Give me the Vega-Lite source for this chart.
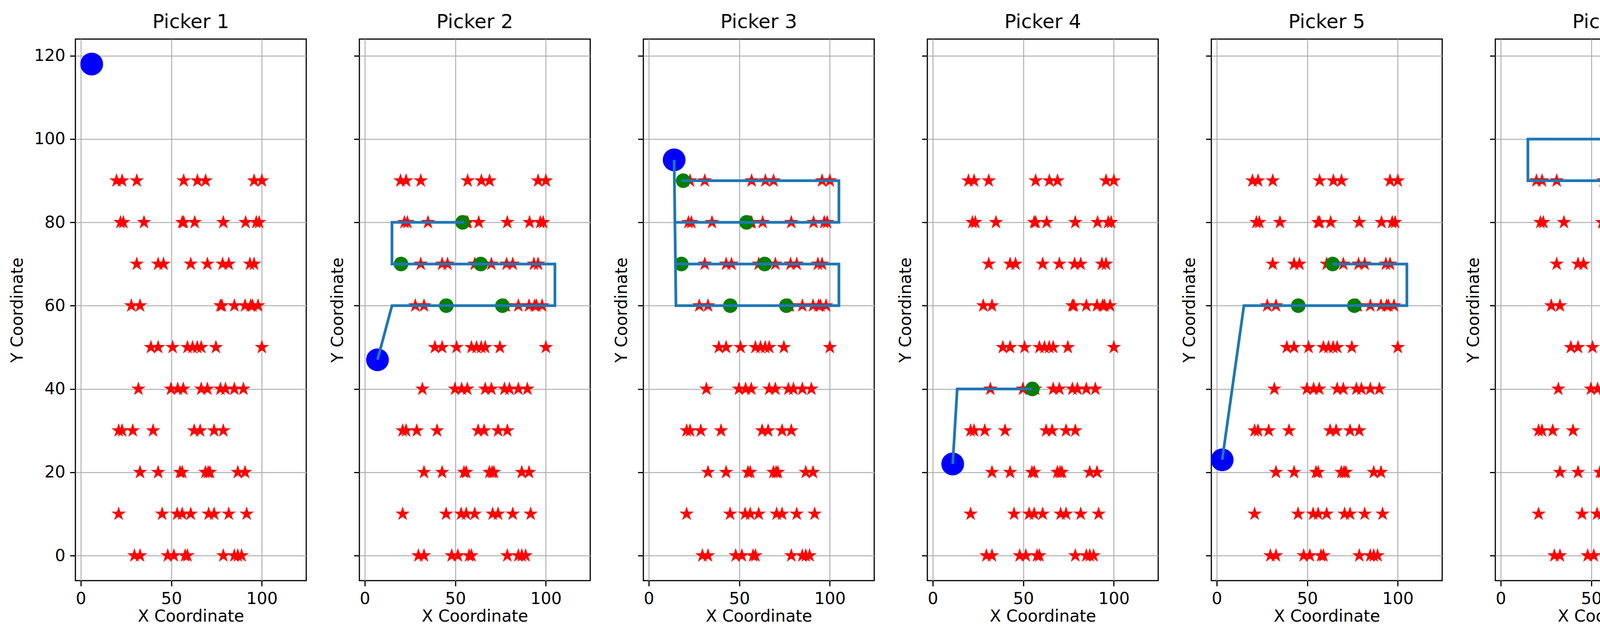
{
  "$schema": "https://vega.github.io/schema/vega-lite/v6.json",
  "padding": {"left": 22, "top": 30, "right": 5, "bottom": 10},
  "spacing": 56,
  "config": {
    "font": "DejaVu Sans",
    "view": {"stroke": "black", "strokeWidth": 3},
    "title": {"fontSize": 50, "fontWeight": "normal", "offset": 18},
    "axis": {
      "labelFontSize": 42, "titleFontSize": 42, "titleFontWeight": "normal",
      "tickSize": 14, "tickWidth": 3, "tickColor": "black", "labelPadding": 12,
      "gridColor": "#b0b0b0", "gridWidth": 2.5, "domain": false, "labelColor": "black"
    }
  },
  "datasets": {
    "stars": [
      {"x": 19.7, "y": 90}, {"x": 22.8, "y": 90}, {"x": 30.9, "y": 90}, {"x": 56.8, "y": 90}, {"x": 64.4, "y": 90}, {"x": 68.9, "y": 90}, {"x": 95.7, "y": 90}, {"x": 100, "y": 90},
      {"x": 21.9, "y": 80}, {"x": 23.5, "y": 80}, {"x": 34.9, "y": 80}, {"x": 56, "y": 80}, {"x": 56.8, "y": 80}, {"x": 62.9, "y": 80}, {"x": 78.7, "y": 80}, {"x": 91, "y": 80}, {"x": 96.9, "y": 80}, {"x": 98.5, "y": 80},
      {"x": 30.9, "y": 70}, {"x": 42.7, "y": 70}, {"x": 45.7, "y": 70}, {"x": 60.7, "y": 70}, {"x": 69.9, "y": 70}, {"x": 78.3, "y": 70}, {"x": 81.7, "y": 70}, {"x": 93.4, "y": 70}, {"x": 95.7, "y": 70},
      {"x": 27.9, "y": 60}, {"x": 32.7, "y": 60}, {"x": 77.1, "y": 60}, {"x": 77.9, "y": 60}, {"x": 84.8, "y": 60}, {"x": 90.7, "y": 60}, {"x": 93.8, "y": 60}, {"x": 94.8, "y": 60}, {"x": 97.9, "y": 60},
      {"x": 38.7, "y": 50}, {"x": 42.7, "y": 50}, {"x": 50.7, "y": 50}, {"x": 58.9, "y": 50}, {"x": 61.7, "y": 50}, {"x": 64.3, "y": 50}, {"x": 66.5, "y": 50}, {"x": 74.6, "y": 50}, {"x": 100, "y": 50},
      {"x": 31.8, "y": 40}, {"x": 49.8, "y": 40}, {"x": 53.5, "y": 40}, {"x": 56.6, "y": 40}, {"x": 66.5, "y": 40}, {"x": 69.9, "y": 40}, {"x": 77.1, "y": 40}, {"x": 79.9, "y": 40}, {"x": 84.8, "y": 40}, {"x": 89.8, "y": 40},
      {"x": 20.9, "y": 30}, {"x": 22.8, "y": 30}, {"x": 28.7, "y": 30}, {"x": 39.9, "y": 30}, {"x": 62.6, "y": 30}, {"x": 65.9, "y": 30}, {"x": 73.6, "y": 30}, {"x": 78.7, "y": 30},
      {"x": 32.7, "y": 20}, {"x": 42.7, "y": 20}, {"x": 54.8, "y": 20}, {"x": 56, "y": 20}, {"x": 68.8, "y": 20}, {"x": 70.3, "y": 20}, {"x": 71.3, "y": 20}, {"x": 86.7, "y": 20}, {"x": 90.7, "y": 20},
      {"x": 20.9, "y": 10}, {"x": 44.9, "y": 10}, {"x": 53.2, "y": 10}, {"x": 56, "y": 10}, {"x": 60.7, "y": 10}, {"x": 70.6, "y": 10}, {"x": 73.6, "y": 10}, {"x": 81.7, "y": 10}, {"x": 91.6, "y": 10},
      {"x": 29.6, "y": 0}, {"x": 32.7, "y": 0}, {"x": 48, "y": 0}, {"x": 51.4, "y": 0}, {"x": 57.6, "y": 0}, {"x": 58.9, "y": 0}, {"x": 78.7, "y": 0}, {"x": 84.8, "y": 0}, {"x": 86.7, "y": 0}, {"x": 88.8, "y": 0}
    ],
    "start": [
      {"p": 1, "x": 6, "y": 118}, {"p": 2, "x": 7, "y": 47}, {"p": 3, "x": 14, "y": 95}, {"p": 4, "x": 11, "y": 22}, {"p": 5, "x": 3, "y": 23},
      {"p": 6, "x": 114, "y": 76}, {"p": 7, "x": 119, "y": 77}, {"p": 8, "x": 106, "y": 31.5}, {"p": 9, "x": 112, "y": 0}, {"p": 10, "x": 101, "y": 43}
    ],
    "picks": [
      {"p": 2, "x": 45, "y": 60}, {"p": 2, "x": 76, "y": 60}, {"p": 2, "x": 20, "y": 70}, {"p": 2, "x": 64, "y": 70}, {"p": 2, "x": 54, "y": 80},
      {"p": 3, "x": 19, "y": 90}, {"p": 3, "x": 54, "y": 80}, {"p": 3, "x": 18, "y": 70}, {"p": 3, "x": 64, "y": 70}, {"p": 3, "x": 45, "y": 60}, {"p": 3, "x": 76, "y": 60},
      {"p": 4, "x": 55, "y": 40},
      {"p": 5, "x": 45, "y": 60}, {"p": 5, "x": 76, "y": 60}, {"p": 5, "x": 64, "y": 70},
      {"p": 6, "x": 89, "y": 100}, {"p": 6, "x": 95, "y": 90},
      {"p": 7, "x": 95, "y": 90}, {"p": 7, "x": 64, "y": 70}, {"p": 7, "x": 45, "y": 60}, {"p": 7, "x": 76, "y": 60},
      {"p": 8, "x": 95, "y": 30},
      {"p": 9, "x": 60, "y": 1},
      {"p": 10, "x": 54.3, "y": 80}, {"p": 10, "x": 64.2, "y": 70}, {"p": 10, "x": 45.2, "y": 60}, {"p": 10, "x": 76.1, "y": 60}, {"p": 10, "x": 30.2, "y": 1.2}
    ],
    "route": [
      {"p": 2, "s": 1, "o": 1, "x": 7, "y": 47}, {"p": 2, "s": 1, "o": 2, "x": 15, "y": 60}, {"p": 2, "s": 1, "o": 3, "x": 105, "y": 60}, {"p": 2, "s": 1, "o": 4, "x": 105, "y": 70}, {"p": 2, "s": 1, "o": 5, "x": 15, "y": 70}, {"p": 2, "s": 1, "o": 6, "x": 15, "y": 80}, {"p": 2, "s": 1, "o": 7, "x": 55, "y": 80},
      {"p": 3, "s": 1, "o": 1, "x": 14, "y": 95}, {"p": 3, "s": 1, "o": 2, "x": 15, "y": 60}, {"p": 3, "s": 1, "o": 3, "x": 105, "y": 60}, {"p": 3, "s": 1, "o": 4, "x": 105, "y": 70}, {"p": 3, "s": 1, "o": 5, "x": 15, "y": 70},
      {"p": 3, "s": 2, "o": 1, "x": 15, "y": 80}, {"p": 3, "s": 2, "o": 2, "x": 105, "y": 80}, {"p": 3, "s": 2, "o": 3, "x": 105, "y": 90}, {"p": 3, "s": 2, "o": 4, "x": 18, "y": 90},
      {"p": 4, "s": 1, "o": 1, "x": 11, "y": 22}, {"p": 4, "s": 1, "o": 2, "x": 13.5, "y": 40}, {"p": 4, "s": 1, "o": 3, "x": 55, "y": 40},
      {"p": 5, "s": 1, "o": 1, "x": 3, "y": 23}, {"p": 5, "s": 1, "o": 2, "x": 15, "y": 60}, {"p": 5, "s": 1, "o": 3, "x": 105, "y": 60}, {"p": 5, "s": 1, "o": 4, "x": 105, "y": 70}, {"p": 5, "s": 1, "o": 5, "x": 64, "y": 70},
      {"p": 6, "s": 1, "o": 1, "x": 114, "y": 76}, {"p": 6, "s": 1, "o": 2, "x": 105, "y": 90}, {"p": 6, "s": 1, "o": 3, "x": 15, "y": 90}, {"p": 6, "s": 1, "o": 4, "x": 15, "y": 100}, {"p": 6, "s": 1, "o": 5, "x": 89, "y": 100},
      {"p": 7, "s": 1, "o": 1, "x": 119, "y": 77}, {"p": 7, "s": 1, "o": 2, "x": 105, "y": 100}, {"p": 7, "s": 1, "o": 3, "x": 105, "y": 90}, {"p": 7, "s": 1, "o": 4, "x": 15, "y": 90}, {"p": 7, "s": 1, "o": 5, "x": 15, "y": 80}, {"p": 7, "s": 1, "o": 6, "x": 105, "y": 80}, {"p": 7, "s": 1, "o": 7, "x": 105, "y": 70}, {"p": 7, "s": 1, "o": 8, "x": 15, "y": 70}, {"p": 7, "s": 1, "o": 9, "x": 15, "y": 60}, {"p": 7, "s": 1, "o": 10, "x": 76, "y": 60},
      {"p": 8, "s": 1, "o": 1, "x": 106, "y": 31.5}, {"p": 8, "s": 1, "o": 2, "x": 105, "y": 30}, {"p": 8, "s": 1, "o": 3, "x": 95, "y": 30},
      {"p": 9, "s": 1, "o": 1, "x": 60, "y": 1}, {"p": 9, "s": 1, "o": 2, "x": 105, "y": 1}, {"p": 9, "s": 1, "o": 3, "x": 112, "y": 0},
      {"p": 10, "s": 1, "o": 1, "x": 101, "y": 43}, {"p": 10, "s": 1, "o": 2, "x": 105, "y": 1.2}, {"p": 10, "s": 1, "o": 3, "x": 15, "y": 1.2}, {"p": 10, "s": 1, "o": 4, "x": 15, "y": 60}, {"p": 10, "s": 1, "o": 5, "x": 105, "y": 60}, {"p": 10, "s": 1, "o": 6, "x": 105, "y": 70}, {"p": 10, "s": 1, "o": 7, "x": 15, "y": 70}, {"p": 10, "s": 1, "o": 8, "x": 15, "y": 80}, {"p": 10, "s": 1, "o": 9, "x": 54.5, "y": 80}
    ]
  },
  "hconcat": [
    {"title": "Picker 1", "width": 591, "height": 1386, "layer": [
      {"data": {"name": "stars"}, "mark": {"type": "point", "filled": true, "color": "red", "opacity": 1, "size": 1500, "shape": "M0,-1L0.2245,-0.309L0.951,-0.309L0.363,0.118L0.588,0.809L0,0.382L-0.588,0.809L-0.363,0.118L-0.951,-0.309L-0.2245,-0.309Z"},
        "encoding": {
          "x": {"field": "x", "type": "quantitative", "scale": {"domain": [-3, 124.5], "nice": false, "zero": false}, "axis": {"values": [0, 50, 100], "title": "X Coordinate"}},
          "y": {"field": "y", "type": "quantitative", "scale": {"domain": [-6, 124], "nice": false, "zero": false}, "axis": {"values": [0, 20, 40, 60, 80, 100, 120], "title": "Y Coordinate", "titlePadding": 20}}}},
      {"data": {"name": "start"}, "transform": [{"filter": "datum.p == 1"}], "mark": {"type": "circle", "color": "blue", "opacity": 1, "size": 3400}, "encoding": {"x": {"field": "x", "type": "quantitative"}, "y": {"field": "y", "type": "quantitative"}}}
    ]},
    {"title": "Picker 2", "width": 591, "height": 1386, "layer": [
      {"data": {"name": "stars"}, "mark": {"type": "point", "filled": true, "color": "red", "opacity": 1, "size": 1500, "shape": "M0,-1L0.2245,-0.309L0.951,-0.309L0.363,0.118L0.588,0.809L0,0.382L-0.588,0.809L-0.363,0.118L-0.951,-0.309L-0.2245,-0.309Z"},
        "encoding": {
          "x": {"field": "x", "type": "quantitative", "scale": {"domain": [-3, 124.5], "nice": false, "zero": false}, "axis": {"values": [0, 50, 100], "title": "X Coordinate"}},
          "y": {"field": "y", "type": "quantitative", "scale": {"domain": [-6, 124], "nice": false, "zero": false}, "axis": {"values": [0, 20, 40, 60, 80, 100, 120], "labels": false, "title": "Y Coordinate", "titlePadding": 18}}}},
      {"data": {"name": "picks"}, "transform": [{"filter": "datum.p == 2"}], "mark": {"type": "circle", "color": "green", "opacity": 1, "size": 1400}, "encoding": {"x": {"field": "x", "type": "quantitative"}, "y": {"field": "y", "type": "quantitative"}}},
      {"data": {"name": "start"}, "transform": [{"filter": "datum.p == 2"}], "mark": {"type": "circle", "color": "blue", "opacity": 1, "size": 3400}, "encoding": {"x": {"field": "x", "type": "quantitative"}, "y": {"field": "y", "type": "quantitative"}}},
      {"data": {"name": "route"}, "transform": [{"filter": "datum.p == 2"}], "mark": {"type": "line", "color": "#1f77b4", "strokeWidth": 7}, "encoding": {"x": {"field": "x", "type": "quantitative"}, "y": {"field": "y", "type": "quantitative"}, "detail": {"field": "s"}, "order": {"field": "o"}}}
    ]},
    {"title": "Picker 3", "width": 591, "height": 1386, "layer": [
      {"data": {"name": "stars"}, "mark": {"type": "point", "filled": true, "color": "red", "opacity": 1, "size": 1500, "shape": "M0,-1L0.2245,-0.309L0.951,-0.309L0.363,0.118L0.588,0.809L0,0.382L-0.588,0.809L-0.363,0.118L-0.951,-0.309L-0.2245,-0.309Z"},
        "encoding": {
          "x": {"field": "x", "type": "quantitative", "scale": {"domain": [-3, 124.5], "nice": false, "zero": false}, "axis": {"values": [0, 50, 100], "title": "X Coordinate"}},
          "y": {"field": "y", "type": "quantitative", "scale": {"domain": [-6, 124], "nice": false, "zero": false}, "axis": {"values": [0, 20, 40, 60, 80, 100, 120], "labels": false, "title": "Y Coordinate", "titlePadding": 18}}}},
      {"data": {"name": "picks"}, "transform": [{"filter": "datum.p == 3"}], "mark": {"type": "circle", "color": "green", "opacity": 1, "size": 1400}, "encoding": {"x": {"field": "x", "type": "quantitative"}, "y": {"field": "y", "type": "quantitative"}}},
      {"data": {"name": "start"}, "transform": [{"filter": "datum.p == 3"}], "mark": {"type": "circle", "color": "blue", "opacity": 1, "size": 3400}, "encoding": {"x": {"field": "x", "type": "quantitative"}, "y": {"field": "y", "type": "quantitative"}}},
      {"data": {"name": "route"}, "transform": [{"filter": "datum.p == 3"}], "mark": {"type": "line", "color": "#1f77b4", "strokeWidth": 7}, "encoding": {"x": {"field": "x", "type": "quantitative"}, "y": {"field": "y", "type": "quantitative"}, "detail": {"field": "s"}, "order": {"field": "o"}}}
    ]},
    {"title": "Picker 4", "width": 591, "height": 1386, "layer": [
      {"data": {"name": "stars"}, "mark": {"type": "point", "filled": true, "color": "red", "opacity": 1, "size": 1500, "shape": "M0,-1L0.2245,-0.309L0.951,-0.309L0.363,0.118L0.588,0.809L0,0.382L-0.588,0.809L-0.363,0.118L-0.951,-0.309L-0.2245,-0.309Z"},
        "encoding": {
          "x": {"field": "x", "type": "quantitative", "scale": {"domain": [-3, 124.5], "nice": false, "zero": false}, "axis": {"values": [0, 50, 100], "title": "X Coordinate"}},
          "y": {"field": "y", "type": "quantitative", "scale": {"domain": [-6, 124], "nice": false, "zero": false}, "axis": {"values": [0, 20, 40, 60, 80, 100, 120], "labels": false, "title": "Y Coordinate", "titlePadding": 18}}}},
      {"data": {"name": "picks"}, "transform": [{"filter": "datum.p == 4"}], "mark": {"type": "circle", "color": "green", "opacity": 1, "size": 1400}, "encoding": {"x": {"field": "x", "type": "quantitative"}, "y": {"field": "y", "type": "quantitative"}}},
      {"data": {"name": "start"}, "transform": [{"filter": "datum.p == 4"}], "mark": {"type": "circle", "color": "blue", "opacity": 1, "size": 3400}, "encoding": {"x": {"field": "x", "type": "quantitative"}, "y": {"field": "y", "type": "quantitative"}}},
      {"data": {"name": "route"}, "transform": [{"filter": "datum.p == 4"}], "mark": {"type": "line", "color": "#1f77b4", "strokeWidth": 7}, "encoding": {"x": {"field": "x", "type": "quantitative"}, "y": {"field": "y", "type": "quantitative"}, "detail": {"field": "s"}, "order": {"field": "o"}}}
    ]},
    {"title": "Picker 5", "width": 591, "height": 1386, "layer": [
      {"data": {"name": "stars"}, "mark": {"type": "point", "filled": true, "color": "red", "opacity": 1, "size": 1500, "shape": "M0,-1L0.2245,-0.309L0.951,-0.309L0.363,0.118L0.588,0.809L0,0.382L-0.588,0.809L-0.363,0.118L-0.951,-0.309L-0.2245,-0.309Z"},
        "encoding": {
          "x": {"field": "x", "type": "quantitative", "scale": {"domain": [-3, 124.5], "nice": false, "zero": false}, "axis": {"values": [0, 50, 100], "title": "X Coordinate"}},
          "y": {"field": "y", "type": "quantitative", "scale": {"domain": [-6, 124], "nice": false, "zero": false}, "axis": {"values": [0, 20, 40, 60, 80, 100, 120], "labels": false, "title": "Y Coordinate", "titlePadding": 18}}}},
      {"data": {"name": "picks"}, "transform": [{"filter": "datum.p == 5"}], "mark": {"type": "circle", "color": "green", "opacity": 1, "size": 1400}, "encoding": {"x": {"field": "x", "type": "quantitative"}, "y": {"field": "y", "type": "quantitative"}}},
      {"data": {"name": "start"}, "transform": [{"filter": "datum.p == 5"}], "mark": {"type": "circle", "color": "blue", "opacity": 1, "size": 3400}, "encoding": {"x": {"field": "x", "type": "quantitative"}, "y": {"field": "y", "type": "quantitative"}}},
      {"data": {"name": "route"}, "transform": [{"filter": "datum.p == 5"}], "mark": {"type": "line", "color": "#1f77b4", "strokeWidth": 7}, "encoding": {"x": {"field": "x", "type": "quantitative"}, "y": {"field": "y", "type": "quantitative"}, "detail": {"field": "s"}, "order": {"field": "o"}}}
    ]},
    {"title": "Picker 6", "width": 591, "height": 1386, "layer": [
      {"data": {"name": "stars"}, "mark": {"type": "point", "filled": true, "color": "red", "opacity": 1, "size": 1500, "shape": "M0,-1L0.2245,-0.309L0.951,-0.309L0.363,0.118L0.588,0.809L0,0.382L-0.588,0.809L-0.363,0.118L-0.951,-0.309L-0.2245,-0.309Z"},
        "encoding": {
          "x": {"field": "x", "type": "quantitative", "scale": {"domain": [-3, 124.5], "nice": false, "zero": false}, "axis": {"values": [0, 50, 100], "title": "X Coordinate"}},
          "y": {"field": "y", "type": "quantitative", "scale": {"domain": [-6, 124], "nice": false, "zero": false}, "axis": {"values": [0, 20, 40, 60, 80, 100, 120], "labels": false, "title": "Y Coordinate", "titlePadding": 18}}}},
      {"data": {"name": "picks"}, "transform": [{"filter": "datum.p == 6"}], "mark": {"type": "circle", "color": "green", "opacity": 1, "size": 1400}, "encoding": {"x": {"field": "x", "type": "quantitative"}, "y": {"field": "y", "type": "quantitative"}}},
      {"data": {"name": "start"}, "transform": [{"filter": "datum.p == 6"}], "mark": {"type": "circle", "color": "blue", "opacity": 1, "size": 3400}, "encoding": {"x": {"field": "x", "type": "quantitative"}, "y": {"field": "y", "type": "quantitative"}}},
      {"data": {"name": "route"}, "transform": [{"filter": "datum.p == 6"}], "mark": {"type": "line", "color": "#1f77b4", "strokeWidth": 7}, "encoding": {"x": {"field": "x", "type": "quantitative"}, "y": {"field": "y", "type": "quantitative"}, "detail": {"field": "s"}, "order": {"field": "o"}}}
    ]},
    {"title": "Picker 7", "width": 591, "height": 1386, "layer": [
      {"data": {"name": "stars"}, "mark": {"type": "point", "filled": true, "color": "red", "opacity": 1, "size": 1500, "shape": "M0,-1L0.2245,-0.309L0.951,-0.309L0.363,0.118L0.588,0.809L0,0.382L-0.588,0.809L-0.363,0.118L-0.951,-0.309L-0.2245,-0.309Z"},
        "encoding": {
          "x": {"field": "x", "type": "quantitative", "scale": {"domain": [-3, 124.5], "nice": false, "zero": false}, "axis": {"values": [0, 50, 100], "title": "X Coordinate"}},
          "y": {"field": "y", "type": "quantitative", "scale": {"domain": [-6, 124], "nice": false, "zero": false}, "axis": {"values": [0, 20, 40, 60, 80, 100, 120], "labels": false, "title": "Y Coordinate", "titlePadding": 18}}}},
      {"data": {"name": "picks"}, "transform": [{"filter": "datum.p == 7"}], "mark": {"type": "circle", "color": "green", "opacity": 1, "size": 1400}, "encoding": {"x": {"field": "x", "type": "quantitative"}, "y": {"field": "y", "type": "quantitative"}}},
      {"data": {"name": "start"}, "transform": [{"filter": "datum.p == 7"}], "mark": {"type": "circle", "color": "blue", "opacity": 1, "size": 3400}, "encoding": {"x": {"field": "x", "type": "quantitative"}, "y": {"field": "y", "type": "quantitative"}}},
      {"data": {"name": "route"}, "transform": [{"filter": "datum.p == 7"}], "mark": {"type": "line", "color": "#1f77b4", "strokeWidth": 7}, "encoding": {"x": {"field": "x", "type": "quantitative"}, "y": {"field": "y", "type": "quantitative"}, "detail": {"field": "s"}, "order": {"field": "o"}}}
    ]},
    {"title": "Picker 8", "width": 591, "height": 1386, "layer": [
      {"data": {"name": "stars"}, "mark": {"type": "point", "filled": true, "color": "red", "opacity": 1, "size": 1500, "shape": "M0,-1L0.2245,-0.309L0.951,-0.309L0.363,0.118L0.588,0.809L0,0.382L-0.588,0.809L-0.363,0.118L-0.951,-0.309L-0.2245,-0.309Z"},
        "encoding": {
          "x": {"field": "x", "type": "quantitative", "scale": {"domain": [-3, 124.5], "nice": false, "zero": false}, "axis": {"values": [0, 50, 100], "title": "X Coordinate"}},
          "y": {"field": "y", "type": "quantitative", "scale": {"domain": [-6, 124], "nice": false, "zero": false}, "axis": {"values": [0, 20, 40, 60, 80, 100, 120], "labels": false, "title": "Y Coordinate", "titlePadding": 18}}}},
      {"data": {"name": "picks"}, "transform": [{"filter": "datum.p == 8"}], "mark": {"type": "circle", "color": "green", "opacity": 1, "size": 1400}, "encoding": {"x": {"field": "x", "type": "quantitative"}, "y": {"field": "y", "type": "quantitative"}}},
      {"data": {"name": "start"}, "transform": [{"filter": "datum.p == 8"}], "mark": {"type": "circle", "color": "blue", "opacity": 1, "size": 3400}, "encoding": {"x": {"field": "x", "type": "quantitative"}, "y": {"field": "y", "type": "quantitative"}}},
      {"data": {"name": "route"}, "transform": [{"filter": "datum.p == 8"}], "mark": {"type": "line", "color": "#1f77b4", "strokeWidth": 7}, "encoding": {"x": {"field": "x", "type": "quantitative"}, "y": {"field": "y", "type": "quantitative"}, "detail": {"field": "s"}, "order": {"field": "o"}}}
    ]},
    {"title": "Picker 9", "width": 591, "height": 1386, "layer": [
      {"data": {"name": "stars"}, "mark": {"type": "point", "filled": true, "color": "red", "opacity": 1, "size": 1500, "shape": "M0,-1L0.2245,-0.309L0.951,-0.309L0.363,0.118L0.588,0.809L0,0.382L-0.588,0.809L-0.363,0.118L-0.951,-0.309L-0.2245,-0.309Z"},
        "encoding": {
          "x": {"field": "x", "type": "quantitative", "scale": {"domain": [-3, 124.5], "nice": false, "zero": false}, "axis": {"values": [0, 50, 100], "title": "X Coordinate"}},
          "y": {"field": "y", "type": "quantitative", "scale": {"domain": [-6, 124], "nice": false, "zero": false}, "axis": {"values": [0, 20, 40, 60, 80, 100, 120], "labels": false, "title": "Y Coordinate", "titlePadding": 18}}}},
      {"data": {"name": "picks"}, "transform": [{"filter": "datum.p == 9"}], "mark": {"type": "circle", "color": "green", "opacity": 1, "size": 1400}, "encoding": {"x": {"field": "x", "type": "quantitative"}, "y": {"field": "y", "type": "quantitative"}}},
      {"data": {"name": "start"}, "transform": [{"filter": "datum.p == 9"}], "mark": {"type": "circle", "color": "blue", "opacity": 1, "size": 3400}, "encoding": {"x": {"field": "x", "type": "quantitative"}, "y": {"field": "y", "type": "quantitative"}}},
      {"data": {"name": "route"}, "transform": [{"filter": "datum.p == 9"}], "mark": {"type": "line", "color": "#1f77b4", "strokeWidth": 7}, "encoding": {"x": {"field": "x", "type": "quantitative"}, "y": {"field": "y", "type": "quantitative"}, "detail": {"field": "s"}, "order": {"field": "o"}}}
    ]},
    {"title": "Picker 10", "width": 591, "height": 1386, "layer": [
      {"data": {"name": "stars"}, "mark": {"type": "point", "filled": true, "color": "red", "opacity": 1, "size": 1500, "shape": "M0,-1L0.2245,-0.309L0.951,-0.309L0.363,0.118L0.588,0.809L0,0.382L-0.588,0.809L-0.363,0.118L-0.951,-0.309L-0.2245,-0.309Z"},
        "encoding": {
          "x": {"field": "x", "type": "quantitative", "scale": {"domain": [-3, 124.5], "nice": false, "zero": false}, "axis": {"values": [0, 50, 100], "title": "X Coordinate"}},
          "y": {"field": "y", "type": "quantitative", "scale": {"domain": [-6, 124], "nice": false, "zero": false}, "axis": {"values": [0, 20, 40, 60, 80, 100, 120], "labels": false, "title": "Y Coordinate", "titlePadding": 18}}}},
      {"data": {"name": "picks"}, "transform": [{"filter": "datum.p == 10"}], "mark": {"type": "circle", "color": "green", "opacity": 1, "size": 1400}, "encoding": {"x": {"field": "x", "type": "quantitative"}, "y": {"field": "y", "type": "quantitative"}}},
      {"data": {"name": "start"}, "transform": [{"filter": "datum.p == 10"}], "mark": {"type": "circle", "color": "blue", "opacity": 1, "size": 3400}, "encoding": {"x": {"field": "x", "type": "quantitative"}, "y": {"field": "y", "type": "quantitative"}}},
      {"data": {"name": "route"}, "transform": [{"filter": "datum.p == 10"}], "mark": {"type": "line", "color": "#1f77b4", "strokeWidth": 7}, "encoding": {"x": {"field": "x", "type": "quantitative"}, "y": {"field": "y", "type": "quantitative"}, "detail": {"field": "s"}, "order": {"field": "o"}}}
    ]}
  ]
}
